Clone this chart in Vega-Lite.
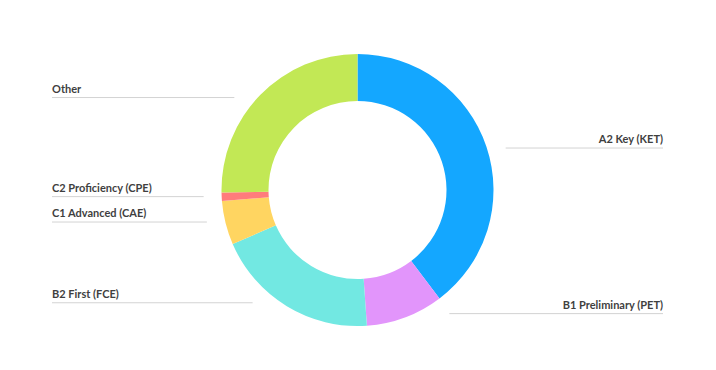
{
  "$schema": "https://vega.github.io/schema/vega-lite/v6.json",
  "width": 715,
  "height": 360,
  "autosize": "none",
  "padding": {"top": 10, "left": 0, "right": 1, "bottom": 0},
  "background": "white",
  "config": {"view": {"stroke": null}},
  "data": {
    "values": [
      {"exam": "A2 Key (KET)", "pct": 39.7},
      {"exam": "B1 Preliminary (PET)", "pct": 9.2},
      {"exam": "B2 First (FCE)", "pct": 19.6},
      {"exam": "C1 Advanced (CAE)", "pct": 5.2},
      {"exam": "C2 Proficiency (CPE)", "pct": 1.0},
      {"exam": "Other", "pct": 25.3}
    ]
  },
  "layer": [
    {
      "mark": {"type": "arc", "outerRadius": 136, "innerRadius": 89},
      "encoding": {
        "theta": {"field": "pct", "type": "quantitative", "stack": true},
        "order": {"field": "exam", "type": "nominal", "sort": "ascending"},
        "color": {
          "field": "exam",
          "type": "nominal",
          "legend": null,
          "scale": {
            "domain": ["A2 Key (KET)", "B1 Preliminary (PET)", "B2 First (FCE)", "C1 Advanced (CAE)", "C2 Proficiency (CPE)", "Other"],
            "range": ["#14A7FF", "#E295FB", "#72E8E2", "#FFD561", "#FF7C7C", "#C2E855"]
          }
        }
      }
    },
    {
      "transform": [
        {"joinaggregate": [{"op": "sum", "field": "pct", "as": "total"}]},
        {"window": [{"op": "sum", "field": "pct", "as": "cum"}], "sort": [{"field": "exam", "order": "ascending"}], "frame": [null, 0]},
        {"calculate": "2*PI*(datum.cum - datum.pct/2)/datum.total", "as": "mid"},
        {"calculate": "132*cos(datum.mid)", "as": "ly"},
        {"calculate": "sin(datum.mid) > 0 ? 1 : -1", "as": "side"},
        {"calculate": "datum.side*305.5", "as": "lx"},
        {"calculate": "datum.side*sqrt(154*154 - datum.ly*datum.ly)", "as": "ex"}
      ],
      "layer": [
        {
          "mark": {"type": "rule", "color": "#d3d3d3", "strokeWidth": 1},
          "encoding": {
            "x": {"field": "lx", "type": "quantitative", "scale": {"domain": [-357.5, 357.5], "nice": false, "zero": false}, "axis": null},
            "x2": {"field": "ex"},
            "y": {"field": "ly", "type": "quantitative", "scale": {"domain": [-180, 180], "nice": false, "zero": false}, "axis": null}
          }
        },
        {
          "transform": [{"filter": "datum.side < 0"}],
          "mark": {"type": "text", "align": "left", "baseline": "alphabetic", "dy": -5, "font": "Lato", "fontSize": 11, "fontWeight": "bold", "color": "#3f3f3f"},
          "encoding": {
            "x": {"field": "lx", "type": "quantitative"},
            "y": {"field": "ly", "type": "quantitative"},
            "text": {"field": "exam"}
          }
        },
        {
          "transform": [{"filter": "datum.side > 0"}],
          "mark": {"type": "text", "align": "right", "baseline": "alphabetic", "dy": -5, "font": "Lato", "fontSize": 11, "fontWeight": "bold", "color": "#3f3f3f"},
          "encoding": {
            "x": {"field": "lx", "type": "quantitative"},
            "y": {"field": "ly", "type": "quantitative"},
            "text": {"field": "exam"}
          }
        }
      ]
    }
  ]
}
